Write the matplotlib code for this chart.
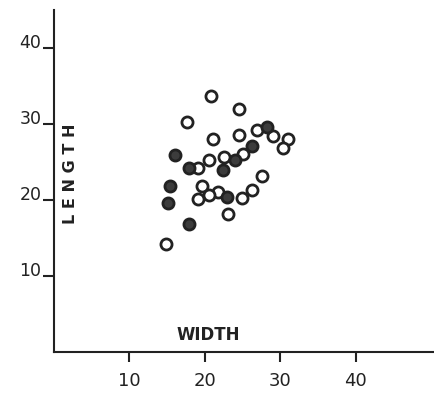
import matplotlib
matplotlib.use("Agg")
import matplotlib.pyplot as plt

# open circles
open_w = [20.8, 24.5, 17.7, 21.1, 24.5, 26.9, 29.0, 31.0, 30.4, 25.1, 22.5,
          20.6, 19.1, 27.6, 19.6, 21.8, 20.5, 19.1, 26.3, 24.9, 23.1, 14.9]
open_l = [33.7, 31.9, 30.3, 28.0, 28.6, 29.2, 28.4, 28.0, 26.8, 26.0, 25.7,
          25.3, 24.2, 23.1, 21.9, 21.0, 20.7, 20.1, 21.3, 20.3, 18.2, 14.2]
# filled circles
fill_w = [28.2, 26.3, 24.0, 16.0, 17.9, 22.4, 15.4, 15.1, 23.0, 17.9]
fill_l = [29.6, 27.1, 25.3, 25.9, 24.2, 23.9, 21.9, 19.6, 20.4, 16.8]

xticks = [10, 20, 30, 40]
yticks = [10, 20, 30, 40]

ink = '#222222'

fig = plt.figure(figsize=(4.35, 3.93), dpi=100)
ax = fig.add_axes([0.124, 0.104, 0.876, 0.871])

ax.scatter(open_w, open_l, s=64, facecolors='white', edgecolors=ink, linewidths=2, zorder=3)
ax.scatter(fill_w, fill_l, s=64, facecolors='#3c3c3c', edgecolors=ink, linewidths=2, zorder=3)

ax.set_xlim(0, 50.5)
ax.set_ylim(0, 45)
for side in ['top', 'right']:
    ax.spines[side].set_visible(False)
for side in ['left', 'bottom']:
    ax.spines[side].set_linewidth(1.5)
    ax.spines[side].set_color(ink)

ax.set_xticks(xticks)
ax.set_yticks(yticks)
ax.set_xticklabels([str(t) for t in xticks], fontsize=13, color=ink)
ax.set_yticklabels([str(t) for t in yticks], fontsize=12.5, color=ink)
for lab in ax.get_yticklabels():
    lab.set_verticalalignment('baseline')
ax.tick_params(axis='x', length=7, width=1.5, color=ink, pad=7)
ax.tick_params(axis='y', length=8, width=1.5, color=ink, pad=1)

ax.text(20.5, 2.2, 'WIDTH', fontsize=12, fontweight='bold', color=ink,
        ha='center', va='center')
ax.text(2.25, 23.4, 'L E N G T H', fontsize=11.5, fontweight='bold', color=ink,
        ha='center', va='center', rotation=90)

fig.savefig('out.png', dpi=100)
